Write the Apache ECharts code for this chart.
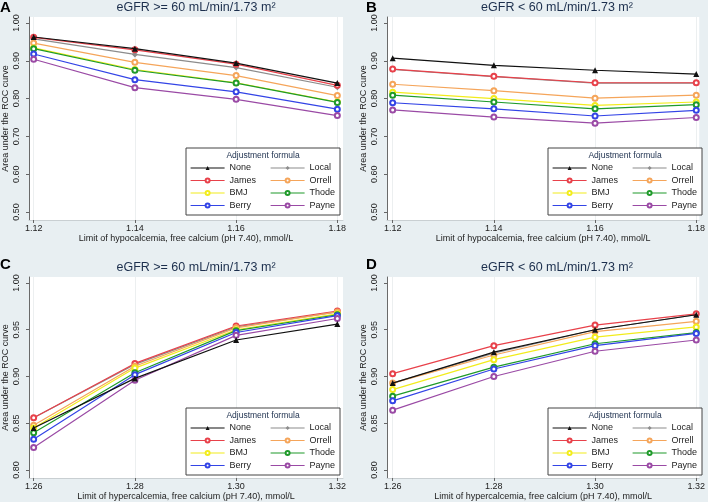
<!DOCTYPE html>
<html>
<head>
<meta charset="utf-8">
<script src="https://cdn.jsdelivr.net/npm/echarts@6/dist/echarts.min.js"></script>
<style>
  html, body { margin: 0; padding: 0; background: #e8eff2; }
  #roc-chart { width: 708px; height: 502px; }
</style>
</head>
<body>
<div id="roc-chart"></div>
<script>
// limits on the x axis
var hypoLimits = [1.12, 1.14, 1.16, 1.18];
var hyperLimits = [1.26, 1.28, 1.30, 1.32];
var yTicksHypo = [0.50, 0.60, 0.70, 0.80, 0.90, 1.00];
var yTicksHyper = [0.80, 0.85, 0.90, 0.95, 1.00];

// order: None, Local, James, Orrell, BMJ, Thode, Berry, Payne
var formulas = ['None', 'Local', 'James', 'Orrell', 'BMJ', 'Thode', 'Berry', 'Payne'];
var formulaColors = ['#111111', '#8c8c8c', '#e8414a', '#f5a55a', '#f2ec1c', '#1f9a2a', '#3344e6', '#9a4aa5'];
var formulaSymbols = ['triangle', 'diamond', 'emptyCircle', 'emptyCircle', 'emptyCircle', 'emptyCircle', 'emptyCircle', 'emptyCircle'];

// A: hypocalcemia, eGFR >= 60
var aucA = [
    [0.963, 0.932, 0.894, 0.841],
    [0.958, 0.917, 0.882, 0.830],
    [0.962, 0.929, 0.891, 0.835],
    [0.947, 0.896, 0.861, 0.808],
    [0.934, 0.877, 0.842, 0.791],
    [0.932, 0.875, 0.841, 0.790],
    [0.918, 0.850, 0.818, 0.772],
    [0.904, 0.829, 0.798, 0.755]
];
// B: hypocalcemia, eGFR < 60
var aucB = [
    [0.907, 0.888, 0.875, 0.865],
    [0.877, 0.858, 0.841, 0.841],
    [0.878, 0.859, 0.842, 0.842],
    [0.838, 0.821, 0.801, 0.809],
    [0.817, 0.800, 0.782, 0.791],
    [0.809, 0.791, 0.773, 0.784],
    [0.789, 0.773, 0.754, 0.769],
    [0.770, 0.751, 0.735, 0.750]
];
// C: hypercalcemia, eGFR >= 60
var aucC = [
    [0.845, 0.898, 0.939, 0.956],
    [0.856, 0.913, 0.953, 0.969],
    [0.856, 0.914, 0.954, 0.970],
    [0.848, 0.911, 0.952, 0.969],
    [0.845, 0.909, 0.950, 0.967],
    [0.840, 0.904, 0.949, 0.966],
    [0.833, 0.902, 0.947, 0.965],
    [0.824, 0.896, 0.944, 0.962]
];
// D: hypercalcemia, eGFR < 60
var aucD = [
    [0.893, 0.926, 0.950, 0.966],
    [0.893, 0.925, 0.950, 0.966],
    [0.903, 0.933, 0.955, 0.967],
    [0.893, 0.923, 0.948, 0.959],
    [0.886, 0.918, 0.942, 0.953],
    [0.879, 0.910, 0.935, 0.947],
    [0.874, 0.908, 0.933, 0.946],
    [0.864, 0.900, 0.927, 0.939]
];

var titleHigh = 'eGFR >= 60 mL/min/1.73 m\u00b2';
var titleLow = 'eGFR < 60 mL/min/1.73 m\u00b2';
var xNameHypo = 'Limit of hypocalcemia, free calcium (pH 7.40), mmol/L';
var xNameHyper = 'Limit of hypercalcemia, free calcium (pH 7.40), mmol/L';

var FONT = '"Liberation Sans", Arial, sans-serif';
var TEXT = '#222222';
var NAVY = '#1c2f4d';

var panels = [
    {letter: 'A', title: titleHigh, xName: xNameHypo, xs: hypoLimits, yTicks: yTicksHypo, data: aucA,
     left: 26, top: 17, width: 317, xMin: 1.11908, xMax: 1.18112, yMin: 0.4788, yMax: 1.0159},
    {letter: 'B', title: titleLow, xName: xNameHypo, xs: hypoLimits, yTicks: yTicksHypo, data: aucB,
     left: 387, top: 17, width: 315, xMin: 1.11888, xMax: 1.18059, yMin: 0.4788, yMax: 1.0159},
    {letter: 'C', title: titleHigh, xName: xNameHyper, xs: hyperLimits, yTicks: yTicksHyper, data: aucC,
     left: 26, top: 277, width: 317, xMin: 1.25908, xMax: 1.32112, yMin: 0.79153, yMax: 1.00635},
    {letter: 'D', title: titleLow, xName: xNameHyper, xs: hyperLimits, yTicks: yTicksHyper, data: aucD,
     left: 387, top: 277, width: 315, xMin: 1.25888, xMax: 1.32059, yMin: 0.79153, yMax: 1.00635}
];

var myChart = echarts.init(document.getElementById('roc-chart'));

var grid = [], xAxis = [], yAxis = [], series = [], legend = [], graphic = [];

panels.forEach(function (p, pi) {
    grid.push({
        left: p.left, top: p.top, width: p.width, height: 203,
        show: true, backgroundColor: '#ffffff', borderWidth: 0
    });
    xAxis.push({
        type: 'value', gridIndex: pi, min: p.xMin, max: p.xMax,
        name: p.xName, nameLocation: 'middle', nameGap: 14,
        nameTextStyle: {fontSize: 9, color: TEXT, fontFamily: FONT},
        axisLine: {show: true, lineStyle: {color: '#c9cfd2', width: 1}},
        axisTick: {show: true, length: 3, lineStyle: {color: '#666'}, customValues: p.xs},
        axisLabel: {fontSize: 9, color: TEXT, fontFamily: FONT, margin: 4, customValues: p.xs,
            formatter: function (v) { return v.toFixed(2); }},
        splitLine: {show: true, lineStyle: {color: '#eceff0', width: 1}}
    });
    yAxis.push({
        type: 'value', gridIndex: pi, min: p.yMin, max: p.yMax,
        name: 'Area under the ROC curve', nameLocation: 'middle', nameGap: 19,
        nameTextStyle: {fontSize: 9, color: TEXT, fontFamily: FONT},
        axisLine: {show: true, lineStyle: {color: '#6a6a6a', width: 1}},
        axisTick: {show: true, length: 3, lineStyle: {color: '#666'}, customValues: p.yTicks},
        axisLabel: {fontSize: 9, color: TEXT, fontFamily: FONT, rotate: 90, margin: 8, customValues: p.yTicks,
            formatter: function (v) { return v.toFixed(2); }},
        splitLine: {show: false}
    });

    formulas.forEach(function (name, i) {
        series.push({
            type: 'line', name: name, xAxisIndex: pi, yAxisIndex: pi,
            data: p.xs.map(function (x, j) { return [x, p.data[i][j]]; }),
            symbol: formulaSymbols[i],
            symbolSize: i < 2 ? 6 : 5,
            lineStyle: {width: 1.2, color: formulaColors[i]},
            itemStyle: {color: formulaColors[i], borderWidth: 1},
            z: i === 0 ? 4 : 3,
            animation: false
        });
    });

    // legend box
    var bx = pi % 2 === 0 ? 186 : 548;
    var by = pi < 2 ? 148 : 408;
    graphic.push({
        type: 'rect', shape: {x: bx, y: by, width: 154, height: 67},
        style: {fill: '#ffffff', stroke: '#444444', lineWidth: 1}, z: 10
    });
    graphic.push({
        type: 'text', x: bx + 77, y: by + 8,
        style: {text: 'Adjustment formula', font: '8.5px ' + FONT, fill: NAVY,
            textAlign: 'center', textVerticalAlign: 'middle'}, z: 11
    });
    [0, 1].forEach(function (col) {
        legend.push({
            orient: 'vertical', left: bx + (col === 0 ? 4 : 84), top: by + 14,
            padding: 0, itemWidth: 34, itemHeight: 5, itemGap: 0.5,
            selectedMode: false, z: 12,
            lineStyle: {width: 1.2},
            data: formulas.filter(function (n, k) { return k % 2 === col; }),
            textStyle: {fontSize: 9, color: TEXT, fontFamily: FONT, lineHeight: 12, padding: [0, 0, 0, 0]}
        });
    });

    // title and panel letter
    var cx = pi % 2 === 0 ? 196 : 557;
    var ty = pi < 2 ? 8 : 268;
    graphic.push({
        type: 'text', x: cx, y: ty,
        style: {text: p.title, font: '12.5px ' + FONT, fill: NAVY, textAlign: 'center', textVerticalAlign: 'middle'}
    });
    graphic.push({
        type: 'text', x: pi % 2 === 0 ? 0 : 366, y: pi < 2 ? 8 : 265,
        style: {text: p.letter, font: 'bold 15px ' + FONT, fill: '#000', textAlign: 'left', textVerticalAlign: 'middle'}
    });
});

var option = {
    backgroundColor: '#e8eff2',
    animation: false,
    grid: grid,
    xAxis: xAxis,
    yAxis: yAxis,
    legend: legend,
    series: series,
    graphic: graphic
};
myChart.setOption(option);
</script>
</body>
</html>
